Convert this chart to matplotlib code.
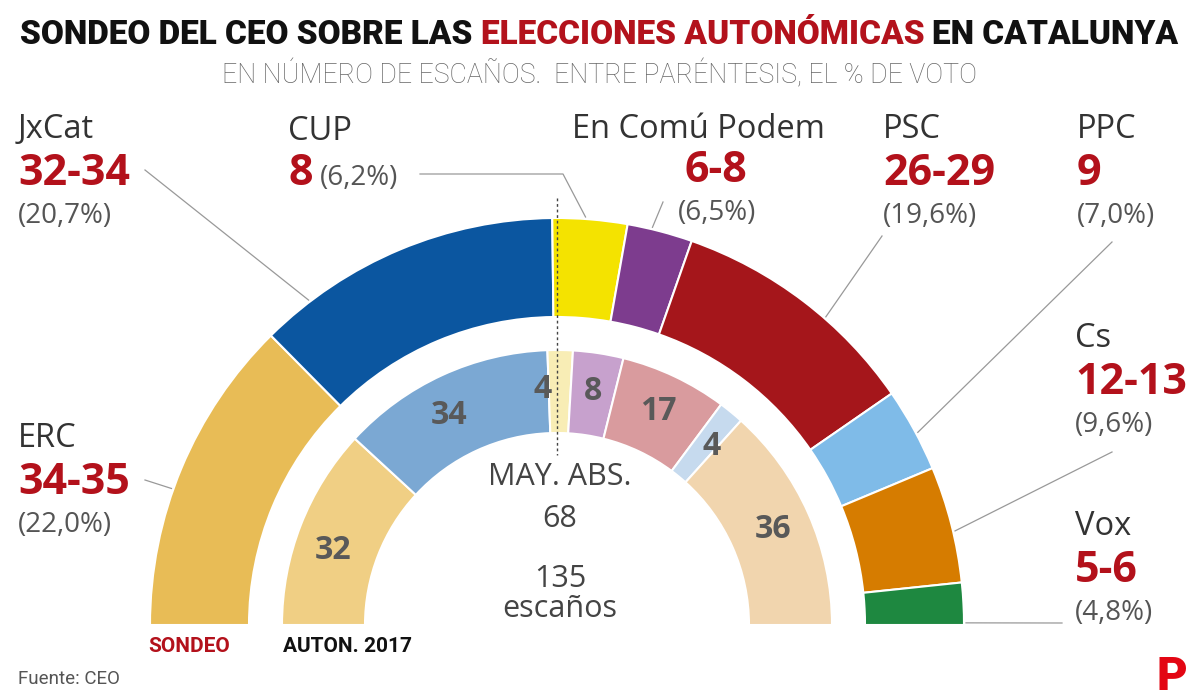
import matplotlib
matplotlib.use("Agg")
import matplotlib.pyplot as plt
from matplotlib.patches import Wedge
import numpy as np

# Data
parties = ["ERC", "JxCat", "CUP", "En Comú Podem", "PSC", "PPC", "Cs", "Vox"]
poll_seats = [34, 33, 8, 7, 27, 9, 12.5, 4.5]          # width drawn in the outer ring
poll_range = ["34-35", "32-34", "8", "6-8", "26-29", "9", "12-13", "5-6"]
poll_vote = ["(22,0%)", "(20,7%)", "(6,2%)", "(6,5%)", "(19,6%)", "(7,0%)", "(9,6%)", "(4,8%)"]
seats_2017 = [32, 34, 4, 8, 17, 4, 36, 0]
total_seats = 135
majority = 68

outer_colors = ["#E8BC56", "#0B56A0", "#F4E300", "#7D3C8E", "#A5161B", "#7FBBE8", "#D67C00", "#1E8840"]
inner_colors = ["#F0CF84", "#7BA8D3", "#F8EDB5", "#C7A1CD", "#D99B9E", "#C6DAEE", "#F1D5AE", "#FFFFFF"]

RED = "#B3111B"
SANS = ["Open Sans", "DejaVu Sans"]
HEAD = ["Roboto", "DejaVu Sans"]

fig = plt.figure(figsize=(12, 6.99), dpi=100)
ax = fig.add_axes([0, 0, 1, 1])
ax.set_xlim(0, 1200)
ax.set_ylim(699, 0)
ax.axis("off")

cx, cy = 557, 625
r_out, w_out = 407, 99
r_in, w_in = 275, 83
k = 180 / total_seats


def ring(values, colors, r, w):
    start = 0
    for v, c in zip(values, colors):
        if v > 0:
            ax.add_patch(Wedge((cx, cy), r, start * k - 180, (start + v) * k - 180,
                               width=w, facecolor=c, edgecolor="white", lw=1.5))
        start += v


ring(poll_seats, outer_colors, r_out, w_out)
ring(seats_2017, inner_colors, r_in, w_in)

# 2017 numbers inside the inner ring
nudge = [3, 2.5, 4.2, 0, 0, -1.5, 0, 0]
start = 0
for v, dn in zip(seats_2017, nudge):
    if v > 0:
        a = np.radians(180 - (start + v / 2) * k + dn)
        ax.text(cx + 236 * np.cos(a), cy - 236 * np.sin(a), str(v), ha="center", va="center",
                fontsize=23, fontweight="bold", color="#595959", family=SANS)
    start += v

# majority line
ax.plot([cx, cx], [198, 455], color="#444444", lw=1, ls=(0, (2, 2)))

# centre texts
for txt, yb in [("MAY. ABS.", 485), (str(majority), 527), (str(total_seats), 587), ("escaños", 617)]:
    ax.text(cx + 3, yb, txt, ha="center", va="baseline", fontsize=22, color="#444444", family=SANS)

# party labels: x, name baseline
label_pos = {
    "ERC": (18, 447), "JxCat": (18, 138), "CUP": (288, 140), "En Comú Podem": (572, 138),
    "PSC": (883, 138), "PPC": (1077, 138), "Cs": (1075, 347), "Vox": (1075, 535),
}
for p, rng, vote in zip(parties, poll_range, poll_vote):
    x, y = label_pos[p]
    ax.text(x, y, p, ha="left", va="baseline", fontsize=23.5, color="#333333", family=SANS)
    if p == "CUP":
        ax.text(x, y + 45, rng, ha="left", va="baseline", fontsize=31, fontweight="bold",
                color=RED, family=SANS)
        ax.text(x + 32, y + 45, vote, ha="left", va="baseline", fontsize=20, color="#555555", family=SANS)
    elif p == "En Comú Podem":
        ax.text(x + 113, y + 44, rng, ha="left", va="baseline", fontsize=31, fontweight="bold",
                color=RED, family=SANS)
        ax.text(x + 106, y + 82, vote, ha="left", va="baseline", fontsize=20, color="#555555", family=SANS)
    else:
        ax.text(x, y + 47, rng, ha="left", va="baseline", fontsize=31, fontweight="bold",
                color=RED, family=SANS)
        ax.text(x, y + 85, vote, ha="left", va="baseline", fontsize=20, color="#555555", family=SANS)

# leader lines: label anchor -> outer edge of the segment (angle in degrees)
leaders = {
    "ERC": ([(145, 480)], 160.5), "JxCat": ([(145, 170)], 127.4),
    "CUP": ([(420, 174), (563, 174)], 86), "En Comú Podem": ([(663, 202)], 76.5),
    "PSC": ([(882, 236)], 48.9), "PPC": ([(1112, 242)], 28.1),
    "Cs": ([(1112, 452)], 13.3), "Vox": ([(1062, 623)], 0.3),
}
for p, (pts, ang) in leaders.items():
    a = np.radians(ang)
    xs = [q[0] for q in pts] + [cx + (r_out + 2) * np.cos(a)]
    ys = [q[1] for q in pts] + [cy - (r_out + 2) * np.sin(a)]
    ax.plot(xs, ys, color="#999999", lw=0.9)

# title with a red middle part, fitted to the width
fig.canvas.draw()
renderer = fig.canvas.get_renderer()
parts = [("SONDEO DEL CEO SOBRE LAS", "#111111"), ("ELECCIONES AUTONÓMICAS", "#B3121C"),
         ("EN CATALUNYA", "#111111")]
size = 30


def width(s, fs):
    t = ax.text(0, 0, s, fontsize=fs, fontweight="black", family=HEAD)
    w = t.get_window_extent(renderer).width
    t.remove()
    return w


sp = width("A A", size) - width("AA", size)
total = sum(width(s, size) for s, _ in parts) + 2 * sp
size = size * 1160 / total
sp = width("A A", size) - width("AA", size)
x = 20
for s, c in parts:
    ax.text(x, 44, s, ha="left", va="baseline", fontsize=size, fontweight="black", color=c, family=HEAD)
    x += width(s, size) + sp

sub = "EN NÚMERO DE ESCAÑOS.  ENTRE PARÉNTESIS, EL % DE VOTO"
t = ax.text(0, 0, sub, fontsize=16, fontweight="light", family=HEAD)
sub_size = 16 * 755 / t.get_window_extent(renderer).width
t.remove()
ax.text(600, 83, sub, ha="center", va="baseline", fontsize=sub_size, fontweight="light",
        color="#666666", family=HEAD)

# legend + source
ax.text(148, 652, "SONDEO", ha="left", va="baseline", fontsize=15, fontweight="bold", color=RED, family=HEAD)
ax.text(283, 652, "AUTON. 2017", ha="left", va="baseline", fontsize=15, fontweight="bold",
        color="#111111", family=HEAD)
ax.text(18, 684, "Fuente: CEO", ha="left", va="baseline", fontsize=13.5, color="#555555", family=HEAD)
ax.text(1187, 690, "P", ha="right", va="baseline", fontsize=34, fontweight="black", color="#E30613", family=HEAD)

fig.savefig("out.png", dpi=100)
